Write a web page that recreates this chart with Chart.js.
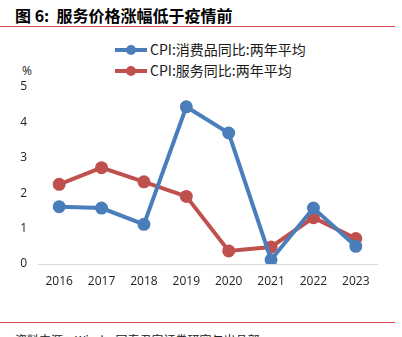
<!DOCTYPE html>
<html>
<head>
<meta charset="utf-8">
<script src="https://cdn.jsdelivr.net/npm/chart.js@4"></script>
<style>
  html, body { margin: 0; padding: 0; background: #fff; }
  #wrap { position: relative; width: 402px; height: 337px; overflow: hidden; font-family: "Noto Sans CJK SC", sans-serif; }
  #title { position: absolute; left: 15px; top: 3px; font-size: 16px; font-weight: bold; color: #000; white-space: nowrap; }
  .rule { position: absolute; left: 0; width: 395px; height: 1px; background: #d9484c; }
  #unit { position: absolute; left: 22px; top: 62px; font-size: 12px; color: #222; font-family: "Open Sans", sans-serif; }
  .leg { position: absolute; left: 115px; font-size: 14px; color: #1a1a1a; white-space: nowrap; }
  .leg i { display: inline-block; position: relative; width: 32px; height: 4px; vertical-align: middle; margin-right: 3px; top: -1px; }
  .leg i b { position: absolute; left: 11px; top: -3px; width: 10px; height: 10px; border-radius: 50%; }
  #source { position: absolute; left: 15px; top: 331px; font-size: 12px; color: #222; white-space: nowrap; }
  canvas { position: absolute; left: 0; top: 0; }
</style>
</head>
<body>
<div id="wrap">
  <div id="title">图 6:&nbsp; 服务价格涨幅低于疫情前</div>
  <div class="rule" style="top:26px"></div>
  <div id="unit">%</div>
  <div class="leg" style="top:39px"><i style="background:#4a7ebb"><b style="background:#4a7ebb"></b></i>CPI:消费品同比:两年平均</div>
  <div class="leg" style="top:60px"><i style="background:#c0504d"><b style="background:#c0504d"></b></i>CPI:服务同比:两年平均</div>
  <div class="rule" style="top:322px"></div>
  <div id="source">资料来源：Wind，国泰君安证券研究与出品部</div>
  <canvas id="c" width="402" height="337"></canvas>
</div>
<script>
const years = ['2016', '2017', '2018', '2019', '2020', '2021', '2022', '2023'];
const goodsCpi = [1.62, 1.58, 1.12, 4.44, 3.70, 0.12, 1.58, 0.50];
const servicesCpi = [2.25, 2.72, 2.32, 1.91, 0.37, 0.48, 1.31, 0.72];
const seriesNames = ['CPI:消费品同比:两年平均', 'CPI:服务同比:两年平均'];

const tickFont = { family: "'Open Sans', sans-serif", size: 12 };

new Chart(document.getElementById('c'), {
    type: 'line',
    data: {
        labels: years,
        datasets: [
            {
                label: seriesNames[0],
                data: goodsCpi,
                borderColor: '#4a7ebb',
                backgroundColor: '#4a7ebb',
                borderWidth: 4,
                pointRadius: 4.5,
                pointHoverRadius: 4.5,
                tension: 0
            },
            {
                label: seriesNames[1],
                data: servicesCpi,
                borderColor: '#c0504d',
                backgroundColor: '#c0504d',
                borderWidth: 4,
                pointRadius: 4.5,
                pointHoverRadius: 4.5,
                tension: 0
            }
        ]
    },
    options: {
        responsive: false,
        animation: false,
        layout: {
            padding: { top: 87, left: 0, right: 25, bottom: 43 }
        },
        plugins: {
            legend: { display: false },
            tooltip: { enabled: false }
        },
        scales: {
            x: {
                offset: true,
                grid: { display: false, drawTicks: false },
                border: { display: true, color: '#d9d9d9', width: 1 },
                ticks: { color: '#222', font: tickFont, padding: 10, maxRotation: 0 },
                afterFit: (scale) => { scale.height = 30; }
            },
            y: {
                min: 0,
                max: 5,
                grid: { display: false, drawTicks: false },
                border: { display: false },
                ticks: { stepSize: 1, color: '#222', font: tickFont, padding: 11 },
                afterFit: (scale) => { scale.width = 38; }
            }
        }
    }
});
</script>
</body>
</html>
